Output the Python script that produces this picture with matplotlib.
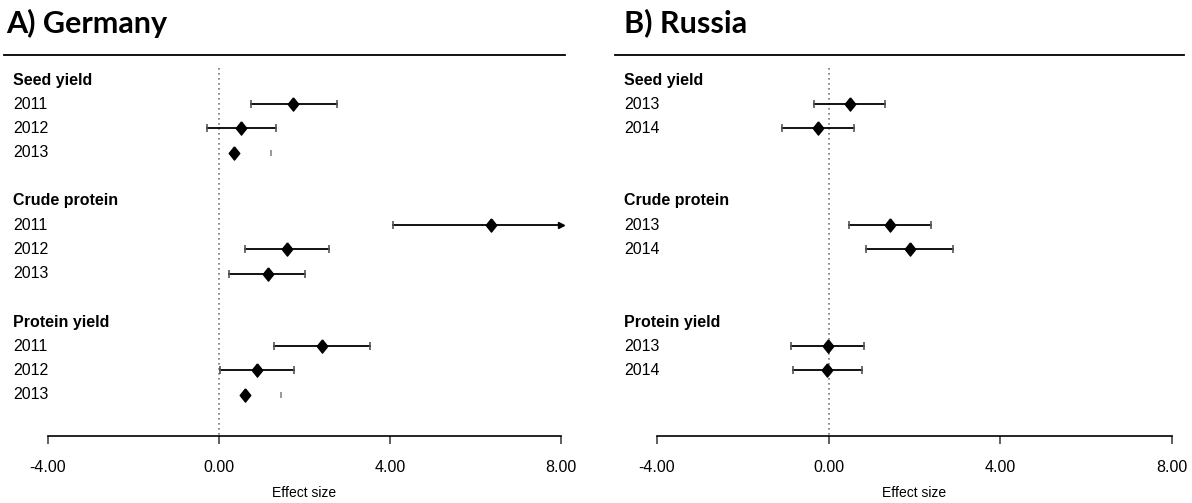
import numpy as np
import matplotlib
matplotlib.use("Agg")
import matplotlib.pyplot as plt
from matplotlib.lines import Line2D

# ---------------- data ----------------
groups = ["Seed yield", "Crude protein", "Protein yield"]

de_years = ["2011", "2012", "2013"]
de_est = [[1.74, 0.52, 0.36], [6.36, 1.60, 1.15], [2.42, 0.89, 0.61]]
de_lo = [[0.76, -0.29, np.nan], [4.07, 0.61, 0.24], [1.29, 0.02, np.nan]]
de_hi = [[2.75, 1.34, 1.22], [8.00, 2.58, 2.02], [3.53, 1.75, 1.46]]

ru_years = ["2013", "2014"]
ru_est = [[0.49, -0.24], [1.42, 1.89], [-0.02, -0.03]]
ru_lo = [[-0.34, -1.08], [0.47, 0.88], [-0.87, -0.84]]
ru_hi = [[1.32, 0.58], [2.38, 2.90], [0.82, 0.77]]

xticks = [-4, 0, 4, 8]
xticklabels = ["-4.00", "0.00", "4.00", "8.00"]
titles = ["A) Germany", "B) Russia"]
xlabel = "Effect size"

# ---------------- layout ----------------
W, H = 1192, 503
plt.rcParams['font.family'] = ['Liberation Sans', 'DejaVu Sans']
fig = plt.figure(figsize=(W / 100, H / 100), dpi=100)

def fx(px):
    return px / W

def fy(py):
    return 1 - py / H

row0, rowh = 80.0, 24.2
ax_top, ax_bot = 55.0, 436.0
diamond = [(0, 1), (0.8, 0), (0, -1), (-0.8, 0), (0, 1)]

panels = [
    dict(title=titles[0], years=de_years, est=de_est, lo=de_lo, hi=de_hi,
         ax_l=48, ax_r=561, line_l=4, line_r=565, lab_x=13, title_x=6),
    dict(title=titles[1], years=ru_years, est=ru_est, lo=ru_lo, hi=ru_hi,
         ax_l=657, ax_r=1172, line_l=615, line_r=1184, lab_x=624, title_x=624),
]

for p in panels:
    ax = fig.add_axes([fx(p['ax_l']), fy(ax_bot), fx(p['ax_r'] - p['ax_l']), (ax_bot - ax_top) / H])
    ax.set_xlim(-4, 8)
    ymin = (ax_top - row0) / rowh
    ymax = (ax_bot - row0) / rowh
    ax.set_ylim(ymax, ymin)
    ax.patch.set_alpha(0)
    for s in ["top", "left", "right"]:
        ax.spines[s].set_visible(False)
    ax.spines["bottom"].set_linewidth(1.2)
    ax.set_yticks([])
    ax.set_xticks(xticks)
    ax.set_xticklabels(xticklabels, fontsize=11.5)
    ax.tick_params(axis='x', direction='out', length=6, width=1.2, pad=11, color='#444444')
    fig.text(fx((p['ax_l'] + p['ax_r']) / 2), fy(493), xlabel, fontsize=10,
             ha='center', va='center')

    # reference dotted line
    ax.plot([0, 0], [(68 - row0) / rowh, ymax], color='#777777', lw=1.2,
            linestyle=(0, (1, 2)), clip_on=False)

    # title and top rule
    fig.text(fx(p['title_x']), fy(23), p['title'], fontsize=22, fontweight='bold',
             family=['Lato', 'DejaVu Sans'], va='center', ha='left')
    fig.add_artist(Line2D([fx(p['line_l']), fx(p['line_r'])], [fy(ax_top), fy(ax_top)],
                          color='black', lw=1.3))

    for g, name in enumerate(groups):
        row = 5 * g
        fig.text(fx(p['lab_x']), fy(row0 + rowh * row), name, fontsize=11.5,
                 fontweight='bold', va='center', ha='left')
        for k, yr in enumerate(p['years']):
            row = 5 * g + k + 1
            fig.text(fx(p['lab_x']), fy(row0 + rowh * row), yr, fontsize=11.5,
                     va='center', ha='left')
            e, lo, hi = p['est'][g][k], p['lo'][g][k], p['hi'][g][k]
            if np.isnan(lo):
                ax.plot([hi], [row], marker='|', color='#888888', markersize=5,
                        mew=1.2, linestyle='none')
            else:
                ax.plot([lo, hi], [row, row], color='black', lw=1.3)
                ax.plot([lo], [row], marker='|', color='#555555', markersize=6, mew=1.2)
                if hi >= 8:
                    ax.plot([hi], [row], marker='>', color='black', markersize=4, clip_on=False)
                else:
                    ax.plot([hi], [row], marker='|', color='#555555', markersize=6, mew=1.2)
            ax.plot([e], [row], marker=diamond, color='black', markersize=9.5, clip_on=False)

fig.savefig("out.png", dpi=100)
